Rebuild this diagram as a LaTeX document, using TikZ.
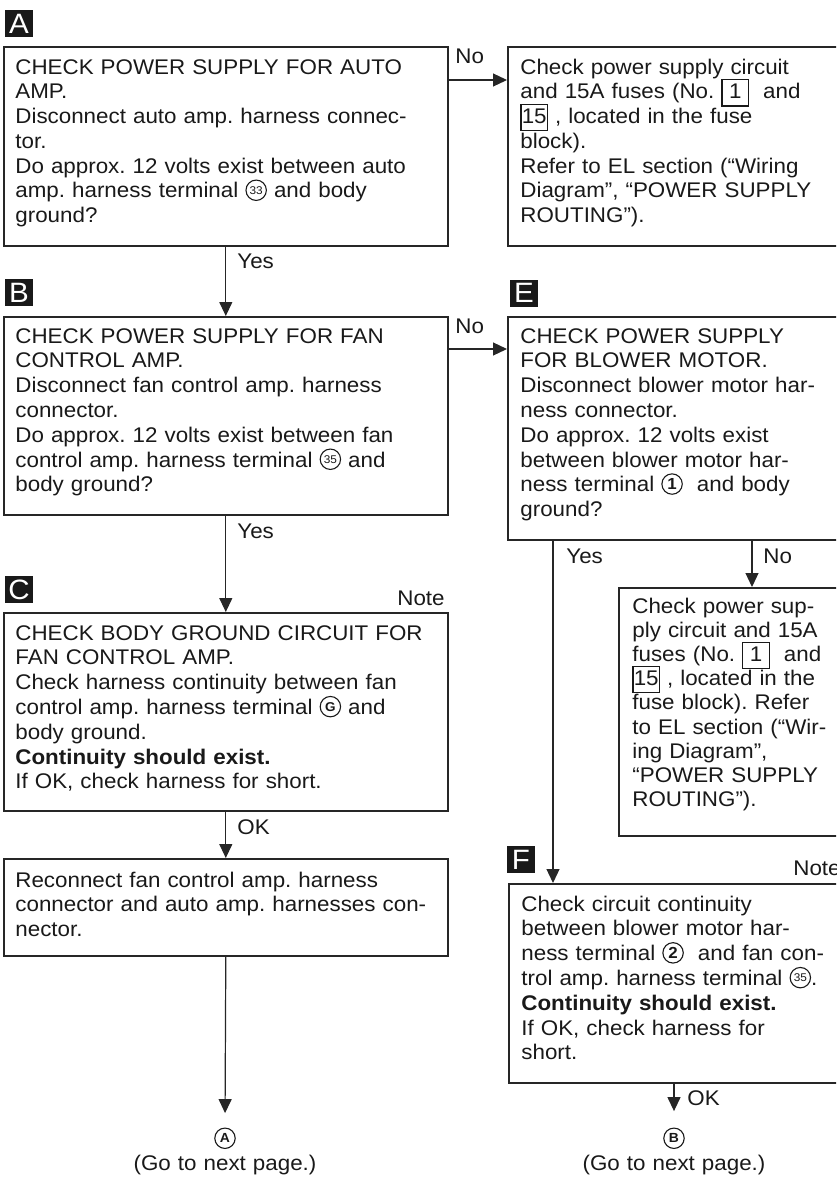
\documentclass[tikz,border=0pt]{standalone}
\usepackage{fontspec}
\setmainfont{Liberation Sans}[FakeStretch=1.055]
\usetikzlibrary{arrows.meta, calc}

%% circled terminal numbers and boxed fuse numbers
\newcommand{\circnum}[2][6.4pt]{\raisebox{-1.5pt}{\tikz{\draw[line width=0.55pt] (0,0) circle[radius=5.1pt];
  \node[anchor=center, inner sep=0pt, text width={}, font=\fontsize{#1}{#1}\selectfont] at (0,0) {#2};}}}
\newcommand{\fusenum}[1]{\raisebox{-3.3pt}{\setlength{\fboxsep}{0pt}\setlength{\fboxrule}{0.6pt}%
  \fbox{\vbox to 12.6pt{\vss\hbox to 12.6pt{\hss#1\hss}\vskip 3.3pt}}}}

\begin{document}
\frenchspacing
\begin{tikzpicture}[
  x=0.5pt, y=-0.5pt,
  chk/.style={rectangle, draw=black!85, line width=0.8pt, anchor=north west, inner sep=0pt},
  txt/.style={anchor=base west, inner sep=0pt, text width=240pt, align=left, text=black!90,
              font=\fontsize{10.6}{12.4}\selectfont,
              execute at begin node={\lineskiplimit=-20pt}},
  lbl/.style={anchor=base west, inner sep=0pt, text=black!90, font=\fontsize{10.6}{12.4}\selectfont},
  tag/.style={fill=black!90, text=white, font=\fontsize{14}{14}\selectfont,
              minimum width=14pt, minimum height=13.5pt, inner sep=0pt},
  goto/.style={anchor=base, inner sep=0pt, text width=130pt, align=center, text=black!90,
               font=\fontsize{10.6}{12.4}\selectfont},
  arr/.style={-{Triangle[length=7pt, width=6.5pt]}, line width=0.6pt, draw=black!85}
]
\useasboundingbox (0,0) rectangle (836,1178);
\clip (0,0) rectangle (836,1178);

%% step markers
\node[tag] (tagA) at (19,23.5)  {A};
\node[tag] (tagB) at (19,292.5) {B};
\node[tag] (tagC) at (19,589.5) {C};
\node[tag] (tagE) at (524,293)  {E};
\node[tag] (tagF) at (521,859.5) {F};

%% boxes (left column x=3, right column x=507)
\node[chk, minimum width=222pt, minimum height=99.5pt]  (boxA)   at (3,46)    {};
\node[chk, minimum width=169pt, minimum height=99.5pt]  (boxAno) at (507,46)  {};
\node[chk, minimum width=222pt, minimum height=99pt]    (boxB)   at (3,316)   {};
\node[chk, minimum width=169pt, minimum height=111.5pt] (boxE)   at (507,316) {};
\node[chk, minimum width=113.5pt, minimum height=124pt] (boxEno) at (618,587) {};
\node[chk, minimum width=222pt, minimum height=99pt]    (boxC)   at (3,612)   {};
\node[chk, minimum width=222pt, minimum height=48.5pt]  (boxD)   at (3,858)   {};
\node[chk, minimum width=168.5pt, minimum height=99.5pt] (boxF)  at (508,883) {};

%% box texts
\node[txt] (txtA) at ($(boxA.north west)+(12,28)$)
  {CHECK POWER SUPPLY FOR AUTO\\
   AMP.\\
   Disconnect auto amp. harness connec-\\
   tor.\\
   Do approx. 12 volts exist between auto\\
   amp. harness terminal \circnum[5.6pt]{33} and body\\
   ground?};
\node[txt] (txtAno) at ($(boxAno.north west)+(13,28)$)
  {Check power supply circuit\\
   and 15A fuses (No. \fusenum{1}\ \ and\\
   \fusenum{15} , located in the fuse\\
   block).\\
   Refer to EL section (“Wiring\\
   Diagram”, “POWER SUPPLY\\
   ROUTING”).};
\node[txt] (txtB) at ($(boxB.north west)+(12,27)$)
  {CHECK POWER SUPPLY FOR FAN\\
   CONTROL AMP.\\
   Disconnect fan control amp. harness\\
   connector.\\
   Do approx. 12 volts exist between fan\\
   control amp. harness terminal \circnum[5.6pt]{35} and\\
   body ground?};
\node[txt] (txtE) at ($(boxE.north west)+(13,27)$)
  {CHECK POWER SUPPLY\\
   FOR BLOWER MOTOR.\\
   Disconnect blower motor har-\\
   ness connector.\\
   Do approx. 12 volts exist\\
   between blower motor har-\\
   ness terminal \circnum[8pt]{\bfseries 1}\ \ and body\\
   ground?};
\node[txt, font=\fontsize{10.6}{12.1}\selectfont] (txtEno) at ($(boxEno.north west)+(14,26)$)
  {Check power sup-\\
   ply circuit and 15A\\
   fuses (No. \fusenum{1}\ \ and\\
   \fusenum{15} , located in the\\
   fuse block). Refer\\
   to EL section (“Wir-\\
   ing Diagram”,\\
   “POWER SUPPLY\\
   ROUTING”).};
\node[txt] (txtC) at ($(boxC.north west)+(12,28)$)
  {CHECK BODY GROUND CIRCUIT FOR\\
   FAN CONTROL AMP.\\
   Check harness continuity between fan\\
   control amp. harness terminal \circnum{\bfseries G} and\\
   body ground.\\
   \textbf{Continuity should exist.}\\
   If OK, check harness for short.};
\node[txt] (txtD) at ($(boxD.north west)+(12,29)$)
  {Reconnect fan control amp. harness\\
   connector and auto amp. harnesses con-\\
   nector.};
\node[txt] (txtF) at ($(boxF.north west)+(13,28)$)
  {Check circuit continuity\\
   between blower motor har-\\
   ness terminal \circnum[8pt]{\bfseries 2}\ \ and fan con-\\
   trol amp. harness terminal \circnum[5.6pt]{35}.\\
   \textbf{Continuity should exist.}\\
   If OK, check harness for\\
   short.};

%% off-page connectors
\node[goto] (gotoA) at (225,1146) {\circnum[6.6pt]{\bfseries A}\\(Go to next page.)};
\node[goto] (gotoB) at (674,1146) {\circnum[6.6pt]{\bfseries B}\\(Go to next page.)};

%% branch points
\coordinate (eyes) at ($(boxE.south west)+(46,0)$);
\coordinate (eno)  at ($(boxE.south west)+(245,0)$);
\coordinate (fok)  at ($(boxF.south west)+(166,0)$);

%% arrows
\draw[arr] ($(boxA.north east)+(0,34)$) -- ($(boxAno.north west)+(0,34)$);
\draw[arr] (boxA.south) -- (boxB.north);
\draw[arr] ($(boxB.north east)+(0,33)$) -- ($(boxE.north west)+(0,33)$);
\draw[arr] (boxB.south) -- (boxC.north);
\draw[arr] (boxC.south) -- (boxD.north);
\draw[arr, shorten >=7pt] (boxD.south) -- (gotoA.north);
\draw[arr] (eyes) -- (eyes |- boxF.north);
\draw[arr] (eno) -- (eno |- boxEno.north);
\draw[arr, shorten >=8pt] (fok) -- (fok |- gotoB.north);

%% branch labels
\node[lbl] at (455,63)  {No};
\node[lbl] at (237,268) {Yes};
\node[lbl] at (455,333) {No};
\node[lbl] at (237,538) {Yes};
\node[lbl] at (237,834) {OK};
\node[lbl] at (566,563) {Yes};
\node[lbl] at (763,563) {No};
\node[lbl] at (687,1105) {OK};
\node[lbl, anchor=base east] at (445,605) {Note};
\node[lbl] at (793,875) {Note};
\end{tikzpicture}
\end{document}
